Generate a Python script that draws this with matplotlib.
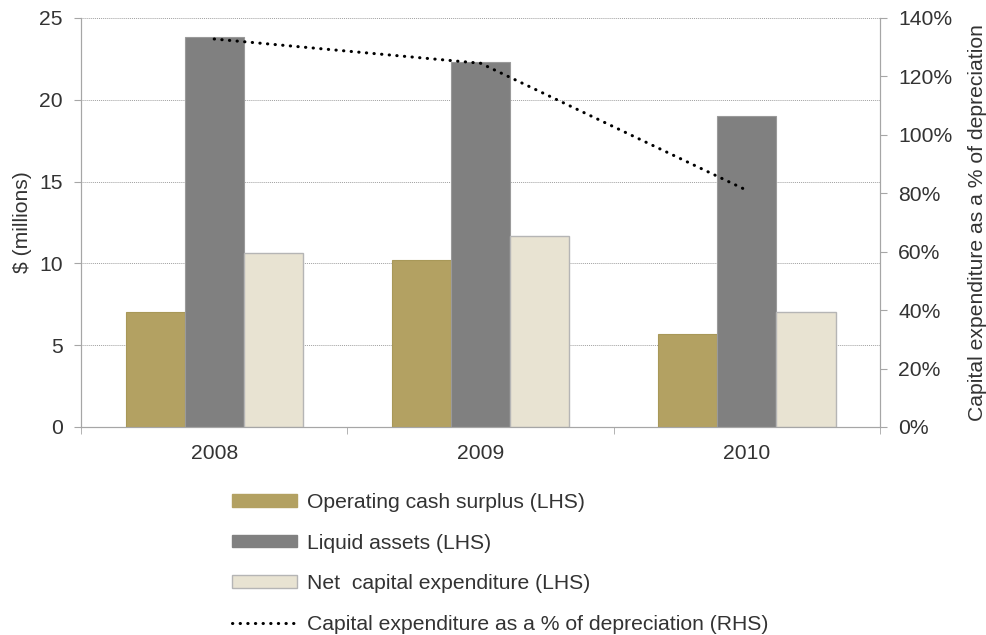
import matplotlib

matplotlib.use("Agg")
import matplotlib.pyplot as plt
from matplotlib.patches import Patch
from matplotlib.lines import Line2D
from matplotlib.ticker import FixedLocator, PercentFormatter

plt.rcParams["font.family"] = ["Liberation Sans", "DejaVu Sans"]

years = ["2008", "2009", "2010"]
operating_cash = [7.0, 10.2, 5.7]
liquid_assets = [23.85, 22.3, 19.0]
net_capex = [10.65, 11.65, 7.05]
capex_pct = [132.8, 124.5, 81.0]

col_op = "#B3A162"
col_liq = "#808080"
col_net = "#E8E3D2"
text_col = "#333333"
axis_col = "#A6A6A6"
fs = 15.2

fig = plt.figure(figsize=(9.86, 6.35), dpi=100)
ax = fig.add_axes([0.0822, 0.3276, 0.8103, 0.6441])

x = list(range(len(years)))
w = 0.222
ax.bar([i - w for i in x], operating_cash, w, color=col_op, edgecolor="#A89858", linewidth=0.8, zorder=3)
ax.bar(x, liquid_assets, w, color=col_liq, edgecolor="#9A9A9A", linewidth=0.8, zorder=3)
ax.bar([i + w for i in x], net_capex, w, color=col_net, edgecolor="#B5B5B5", linewidth=1.0, zorder=3)

ax.set_xlim(-0.5, 2.5)
ax.set_ylim(0, 25)
ax.set_yticks([0, 5, 10, 15, 20, 25])
ax.set_xticks(x)
ax.set_xticklabels(years)
ax.xaxis.set_minor_locator(FixedLocator([-0.5, 0.5, 1.5, 2.5]))
ax.tick_params(axis="x", which="major", length=0, pad=12, labelsize=fs, colors=text_col)
ax.tick_params(axis="x", which="minor", length=5, color=axis_col)
ax.tick_params(axis="y", length=5, color=axis_col, labelsize=fs, colors=text_col, pad=8)
ax.yaxis.grid(True, linestyle=(0, (1, 1)), color="#A0A0A0", linewidth=0.7, zorder=0)
ax.set_axisbelow(True)
for side in ["left", "bottom", "right"]:
    ax.spines[side].set_color(axis_col)
ax.spines["top"].set_visible(False)
ax.set_ylabel("$ (millions)", fontsize=fs, color=text_col, labelpad=5)

ax2 = ax.twinx()
ax2.plot(x, capex_pct, color="black", linewidth=2.2, linestyle=(0, (0.1, 2.4)),
         dash_capstyle="round", zorder=5)
ax2.set_ylim(0, 140)
ax2.set_yticks(range(0, 141, 20))
ax2.yaxis.set_major_formatter(PercentFormatter(decimals=0))
ax2.tick_params(axis="y", length=5, color=axis_col, labelsize=fs, colors=text_col, pad=8)
for side in ["left", "bottom", "right"]:
    ax2.spines[side].set_color(axis_col)
ax2.spines["top"].set_visible(False)
ax2.set_ylabel("Capital expenditure as a % of depreciation", fontsize=fs,
               color=text_col, labelpad=11)

handles = [
    Patch(facecolor=col_op, edgecolor=col_op),
    Patch(facecolor=col_liq, edgecolor=col_liq),
    Patch(facecolor=col_net, edgecolor="#B5B5B5"),
    Line2D([], [], color="black", linewidth=2.2, linestyle=(0, (0.1, 2.4)), dash_capstyle="round"),
]
labels = [
    "Operating cash surplus (LHS)",
    "Liquid assets (LHS)",
    "Net  capital expenditure (LHS)",
    "Capital expenditure as a % of depreciation (RHS)",
]
fig.legend(handles, labels, loc="upper left", bbox_to_anchor=(0.235, 0.224),
           frameon=False, fontsize=fs, handlelength=3.1, handleheight=0.56,
           handletextpad=0.47, labelspacing=1.03, labelcolor=text_col,
           borderaxespad=0, borderpad=0)

fig.savefig("out.png", dpi=100)
